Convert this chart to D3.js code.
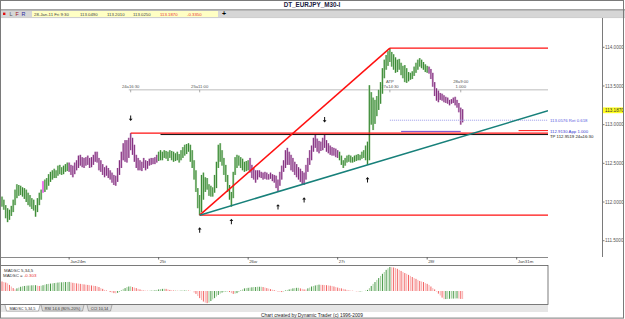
<!DOCTYPE html>
<html>
<head>
<meta charset="utf-8">
<script src="https://cdn.jsdelivr.net/npm/d3@7"></script>
<style>
  html, body { margin: 0; padding: 0; background: #fff; }
  svg text { font-family: "Liberation Sans", Arial, sans-serif; }
</style>
</head>
<body>
<svg id="chart" width="625" height="319"></svg>
<script>
'use strict';

// ---- data (M30 bars, bar index 0 = Jan24 00:00, 48 bars a day) ----
var firstBar = -36;

var barHigh = [
  112.07,112.03,111.96,111.92,111.90,111.95,112.03,112.16,112.23,112.22,
  112.21,112.19,112.18,112.16,112.12,112.09,112.05,112.03,111.96,112.05,
  112.12,112.16,112.27,112.29,112.31,112.36,112.39,112.41,112.43,112.41,
  112.47,112.48,112.45,112.47,112.49,112.51,112.51,112.48,112.47,112.51,
  112.54,112.60,112.61,112.58,112.57,112.58,112.60,112.57,112.58,112.61,
  112.65,112.65,112.57,112.54,112.49,112.45,112.47,112.44,112.41,112.38,
  112.35,112.34,112.44,112.54,112.65,112.76,112.80,112.80,112.83,112.89,
  112.83,112.74,112.61,112.57,112.54,112.52,112.57,112.54,112.53,112.56,
  112.57,112.57,112.58,112.61,112.65,112.67,112.65,112.67,112.66,112.65,
  112.67,112.66,112.65,112.63,112.65,112.62,112.67,112.71,112.74,112.75,
  112.76,112.74,112.67,112.54,112.41,112.18,112.09,112.35,112.38,112.32,
  112.31,112.23,112.21,112.19,112.35,112.52,112.74,112.76,112.67,112.57,
  112.48,112.35,112.22,112.13,112.39,112.58,112.61,112.60,112.58,112.56,
  112.52,112.53,112.54,112.57,112.48,112.44,112.41,112.41,112.41,112.39,
  112.38,112.39,112.38,112.36,112.38,112.36,112.35,112.34,112.29,112.39,
  112.47,112.54,112.67,112.70,112.65,112.61,112.57,112.52,112.49,112.45,
  112.43,112.40,112.38,112.48,112.57,112.67,112.73,112.83,112.87,112.82,
  112.79,112.78,112.83,112.87,112.80,112.76,112.73,112.71,112.70,112.69,
  112.67,112.65,112.60,112.54,112.57,112.60,112.61,112.60,112.58,112.60,
  112.61,112.62,112.61,112.65,112.67,112.73,112.78,113.51,113.42,113.35,
  113.32,113.37,113.45,113.55,113.73,113.84,113.90,113.95,113.99,113.94,
  113.91,113.87,113.84,113.85,113.80,113.76,113.77,113.73,113.68,113.67,
  113.69,113.75,113.80,113.84,113.86,113.84,113.81,113.78,113.76,113.75,
  113.72,113.67,113.55,113.47,113.44,113.41,113.40,113.38,113.36,113.35,
  113.32,113.33,113.35,113.36,113.32,113.28,113.22,113.20
];

var barLow = [
  111.94,111.90,111.79,111.74,111.77,111.82,111.87,111.96,112.05,112.08,
  112.09,112.07,112.04,112.00,111.96,111.94,111.91,111.89,111.81,111.87,
  111.96,112.03,112.12,112.13,112.16,112.21,112.26,112.29,112.31,112.31,
  112.34,112.36,112.35,112.36,112.39,112.40,112.39,112.35,112.32,112.36,
  112.41,112.44,112.47,112.45,112.44,112.47,112.48,112.44,112.45,112.48,
  112.52,112.51,112.41,112.39,112.35,112.32,112.34,112.31,112.29,112.25,
  112.22,112.21,112.26,112.35,112.44,112.54,112.52,112.51,112.57,112.67,
  112.61,112.52,112.44,112.41,112.41,112.40,112.44,112.41,112.43,112.47,
  112.48,112.49,112.49,112.51,112.53,112.54,112.54,112.57,112.56,112.53,
  112.57,112.54,112.52,112.53,112.54,112.51,112.54,112.57,112.60,112.62,
  112.65,112.52,112.44,112.29,112.13,111.92,111.83,111.87,112.03,112.13,
  112.16,112.08,112.07,112.07,112.12,112.18,112.44,112.52,112.47,112.35,
  112.26,112.13,112.03,111.94,112.05,112.35,112.44,112.47,112.44,112.41,
  112.39,112.40,112.41,112.38,112.31,112.29,112.25,112.29,112.32,112.31,
  112.29,112.30,112.29,112.29,112.30,112.27,112.25,112.18,112.13,112.21,
  112.29,112.39,112.44,112.48,112.48,112.41,112.39,112.35,112.32,112.29,
  112.26,112.23,112.22,112.29,112.39,112.48,112.54,112.65,112.70,112.65,
  112.63,112.66,112.67,112.70,112.65,112.63,112.61,112.60,112.60,112.58,
  112.57,112.54,112.48,112.44,112.47,112.51,112.52,112.51,112.51,112.52,
  112.53,112.54,112.54,112.56,112.57,112.54,112.48,112.54,113.00,112.93,
  113.01,113.11,113.19,113.27,113.40,113.60,113.71,113.76,113.81,113.75,
  113.71,113.67,113.68,113.71,113.64,113.60,113.55,113.54,113.56,113.58,
  113.59,113.63,113.67,113.71,113.75,113.73,113.71,113.68,113.67,113.66,
  113.59,113.49,113.37,113.31,113.29,113.32,113.31,113.29,113.28,113.27,
  113.25,113.27,113.28,113.25,113.22,113.16,113.00,113.03
];

// trend state per run of bars: [first bar, state]
var trendRuns = [[0, "up"], [22, "flag"], [23, "up"], [36, "dn"], [84, "up"], [133, "dn"], [181, "up"], [229, "dn"]];

// MADSC 5,34,5 oscillator, one value per bar
var madsc = [
  0.36,0.34,0.32,0.29,0.23,0.17,0.11,0.06,0.10,0.13,
  0.16,0.18,0.19,0.20,0.205,0.21,0.215,0.22,0.22,0.20,
  0.19,0.20,0.22,0.24,0.26,0.27,0.28,0.29,0.30,0.31,
  0.32,0.33,0.33,0.335,0.34,0.34,0.345,0.33,0.31,0.30,
  0.29,0.28,0.27,0.26,0.25,0.24,0.23,0.22,0.21,0.20,
  0.19,0.17,0.15,0.11,0.08,0.04,0.02,0.00,-0.04,-0.06,
  -0.08,-0.09,-0.07,-0.04,0.02,0.08,0.11,0.15,0.17,0.175,
  0.15,0.13,0.11,0.08,0.06,0.04,0.02,0.015,0.01,0.01,
  0.015,0.02,0.025,0.04,0.06,0.07,0.08,0.085,0.08,0.06,
  0.04,0.03,0.02,0.02,0.01,0.01,0.015,0.02,0.02,0.02,
  0.015,0.01,0.00,-0.06,-0.11,-0.19,-0.27,-0.34,-0.40,-0.44,
  -0.46,-0.44,-0.38,-0.32,-0.27,-0.21,-0.15,-0.10,-0.06,-0.04,
  -0.02,-0.02,-0.04,-0.08,-0.11,-0.10,-0.08,-0.04,0.02,0.06,
  0.10,0.11,0.12,0.13,0.14,0.15,0.15,0.16,0.16,0.16,
  0.15,0.13,0.11,0.09,0.07,0.05,0.03,0.01,-0.02,-0.03,
  -0.04,-0.02,0.02,0.04,0.06,0.08,0.10,0.11,0.12,0.12,
  0.10,0.08,0.06,0.055,0.10,0.13,0.17,0.19,0.21,0.23,
  0.24,0.235,0.23,0.225,0.22,0.21,0.20,0.19,0.17,0.15,
  0.13,0.11,0.10,0.08,0.06,0.04,0.02,0.015,0.01,0.00,
  -0.01,-0.02,-0.02,-0.015,0.00,0.02,0.04,0.11,0.19,0.27,
  0.34,0.42,0.49,0.57,0.65,0.72,0.80,0.86,0.91,0.90,
  0.89,0.87,0.84,0.80,0.76,0.72,0.68,0.65,0.61,0.57,
  0.53,0.49,0.46,0.42,0.38,0.36,0.34,0.30,0.27,0.23,
  0.17,0.11,0.06,-0.02,-0.10,-0.17,-0.25,-0.31,-0.305,-0.30,
  -0.295,-0.29,-0.288,-0.285,-0.28,-0.29,-0.30,-0.303
];

var dayTicks = [0, 48, 96, 144, 192, 240];
var dayLabels = ["Jan24m", "25t", "26w", "27t", "28f", "Jan31m"];
var priceTicks = [111.5, 112, 112.5, 113, 113.5, 114];
var lastPrice = 113.187;
var quote = ["28-Jan-11 Fri 9:30", "113.0490", "113.2010", "113.0250", "113.1870", "-0.3350"];

// swing points (bar number in the arrays above, price)
var swingLow = {bar: 106, price: 111.83};
var swingHigh = {bar: 208, price: 113.99};
var trendLow2 = {bar: 196, price: 112.48};
var timeLevel = 113.45;
var timeMarks = [
  {bar: 69, text: ["24a16:30"]},
  {bar: 106, text: ["25a11:00"]},
  {bar: 208, text: ["ATP", "27a14:30"]},
  {bar: 246, text: ["28a9:00", "1.000"]}
];
var upArrows = [106, 123, 148, 162, 196];
var downArrows = [69, 173];
var priceLevels = [
  {from: 85, price: 112.872, color: "#111", width: 1},
  {from: 69, price: 112.89, color: "#ff1010", width: 1.4},
  {from: 208, price: 113.0576, color: "#9a9ae8", width: 1, dash: "1,1"},
  {from: 214, to: 246, price: 112.913, color: "#7048c8", width: 1},
  {from: 277, price: 112.923, color: "#ff1010", width: 1}
];
var levelLabels = [
  {price: 113.0576, text: "113.0576 Ret 0.618", color: "#5a5ae0"},
  {price: 112.913, text: "112.9130 App 1.000", color: "#3a3ad0"},
  {price: 112.8519, text: "TP 112.9519 24a16:30", color: "#111"}
];

// ---- setup ----
var svg = d3.select("#chart");
var plotRight = 548;
var x = d3.scaleLinear().domain([-36, 240]).range([2, 516.7]);
var y = d3.scaleLinear().domain([111.5, 114]).range([240.7, 47.3]);
var ym = d3.scaleLinear().domain([-0.5, 1.0]).range([304.2, 264.6]);
function bx(k) { return x(k + firstBar); }
var lastBar = x.invert(plotRight) - firstBar;

var colors = {
  up: {dark: "#217a1c", light: "#a8d0a0"},
  dn: {dark: "#74146e", light: "#cca4cc"},
  flag: {dark: "#e818e8", light: "#f49cf4"}
};
function stateOf(k) {
  var s = "up";
  trendRuns.forEach(function (r) { if (k >= r[0]) s = r[1]; });
  return s;
}

svg.append("rect").attr("width", 625).attr("height", 319).attr("fill", "#fff");

svg.append("defs").append("clipPath").attr("id", "clipMain")
  .append("rect").attr("x", 1).attr("y", 18).attr("width", plotRight - 1).attr("height", 239);

// ---- title + toolbar ----
svg.append("text").attr("x", 312).attr("y", 7.2).attr("text-anchor", "middle")
  .style("font-size", "6.3px").style("font-weight", "bold").attr("fill", "#1a1a40")
  .text("DT_EURJPY_M30-I");
svg.append("rect").attr("x", 0).attr("y", 10).attr("width", 625).attr("height", 7.5).attr("fill", "#d6d6d6");
svg.append("line").attr("x1", 0).attr("x2", 625).attr("y1", 9.8).attr("y2", 9.8).attr("stroke", "#606060").attr("stroke-width", 0.8);
svg.append("line").attr("x1", 0).attr("x2", 625).attr("y1", 17.6).attr("y2", 17.6).attr("stroke", "#b8b8b8").attr("stroke-width", 0.6);
svg.append("rect").attr("x", 3).attr("y", 12.6).attr("width", 2.4).attr("height", 2.4).attr("fill", "#e01010");
[["L", 9.5, "#555"], ["F", 15.5, "#a01010"], ["R", 21.5, "#2a2aa0"]].forEach(function (d) {
  svg.append("text").attr("x", d[1]).attr("y", 16.2).style("font-size", "5.4px").attr("fill", d[2]).text(d[0]);
});
svg.append("rect").attr("x", 32).attr("y", 11).attr("width", 186).attr("height", 6).attr("fill", "#ffffc4");
var quoteX = [34, 80, 107, 133, 160, 187];
quote.forEach(function (q, i) {
  svg.append("text").attr("x", quoteX[i]).attr("y", 15.7).style("font-size", "4.3px")
    .attr("fill", i >= 4 ? "#e83030" : "#404040").text(q);
});
svg.append("text").attr("x", 224).attr("y", 16.4).attr("text-anchor", "middle")
  .style("font-size", "7px").style("font-weight", "bold").attr("fill", "#000").text("+");

// ---- price axis ----
svg.append("line").attr("x1", 602.5).attr("x2", 602.5).attr("y1", 18).attr("y2", 257)
  .attr("stroke", "#7a7a7a").attr("stroke-width", 1);
priceTicks.forEach(function (p) {
  svg.append("line").attr("x1", 602.5).attr("x2", 604.5).attr("y1", y(p)).attr("y2", y(p)).attr("stroke", "#7a7a7a");
  svg.append("text").attr("x", 605).attr("y", y(p) + 1.7).style("font-size", "4.6px").attr("fill", "#555")
    .text(d3.format(".4f")(p));
});
svg.append("rect").attr("x", 603).attr("y", y(lastPrice) - 2.8).attr("width", 20.5).attr("height", 5.8).attr("fill", "#ffff20");
svg.append("text").attr("x", 605).attr("y", y(lastPrice) + 1.7).style("font-size", "4.6px").attr("fill", "#333")
  .text(d3.format(".4f")(lastPrice));

// ---- time axis ----
svg.append("line").attr("x1", 0).attr("x2", plotRight).attr("y1", 257.5).attr("y2", 257.5)
  .attr("stroke", "#8a8a8a").attr("stroke-width", 1);
dayTicks.forEach(function (t, i) {
  svg.append("line").attr("x1", x(t)).attr("x2", x(t)).attr("y1", 257).attr("y2", 259.5).attr("stroke", "#666");
  svg.append("text").attr("x", x(t) + 1).attr("y", 263.3).style("font-size", "4.4px").attr("fill", "#444")
    .text(dayLabels[i]);
});

// ---- main plot ----
var plot = svg.append("g").attr("clip-path", "url(#clipMain)");

// time-level guide line and time labels
plot.append("line").attr("x1", bx(68)).attr("x2", plotRight).attr("y1", y(timeLevel)).attr("y2", y(timeLevel))
  .attr("stroke", "#b4b4b4").attr("stroke-width", 0.9);
timeMarks.forEach(function (m) {
  var tx = bx(m.bar);
  plot.append("line").attr("x1", tx).attr("x2", tx).attr("y1", y(timeLevel)).attr("y2", y(timeLevel) + 2.5)
    .attr("stroke", "#777").attr("stroke-width", 0.6);
  m.text.forEach(function (t, j) {
    plot.append("text").attr("x", tx).attr("y", y(timeLevel) - 1.5 - (m.text.length - 1 - j) * 5)
      .attr("text-anchor", "middle").style("font-size", "4.2px").attr("fill", "#555").text(t);
  });
});

// price bars
var bars = plot.append("g").selectAll("g").data(barHigh.map(function (h, k) {
  return {k: k, hi: h, lo: barLow[k], s: stateOf(k)};
})).join("g");
bars.append("rect")
  .attr("x", function (d) { return bx(d.k) - 1.1; })
  .attr("width", 2.2)
  .attr("y", function (d) { return y(d.hi); })
  .attr("height", function (d) { return Math.max(1, y(d.lo) - y(d.hi)); })
  .attr("fill", function (d) { return colors[d.s].light; })
  .attr("opacity", 0.8);
bars.append("line")
  .attr("x1", function (d) { return bx(d.k); })
  .attr("x2", function (d) { return bx(d.k); })
  .attr("y1", function (d) { return y(d.hi); })
  .attr("y2", function (d) { return y(d.lo); })
  .attr("stroke", function (d) { return colors[d.s].dark; })
  .attr("stroke-width", 0.85);

// horizontal levels
priceLevels.forEach(function (l) {
  plot.append("line").attr("x1", bx(l.from)).attr("x2", l.to !== undefined ? bx(l.to) : plotRight)
    .attr("y1", y(l.price)).attr("y2", y(l.price))
    .attr("stroke", l.color).attr("stroke-width", l.width)
    .attr("stroke-dasharray", l.dash || null);
});

// swing lines
plot.append("line").attr("x1", bx(swingLow.bar)).attr("y1", y(swingLow.price))
  .attr("x2", bx(swingHigh.bar)).attr("y2", y(swingHigh.price))
  .attr("stroke", "#ff1010").attr("stroke-width", 1.5);
plot.append("line").attr("x1", bx(swingHigh.bar)).attr("x2", plotRight)
  .attr("y1", y(swingHigh.price)).attr("y2", y(swingHigh.price))
  .attr("stroke", "#ff1010").attr("stroke-width", 1.2);
plot.append("line").attr("x1", bx(swingLow.bar)).attr("x2", plotRight)
  .attr("y1", y(swingLow.price)).attr("y2", y(swingLow.price))
  .attr("stroke", "#ff1010").attr("stroke-width", 1.2);
var slope = (trendLow2.price - swingLow.price) / (trendLow2.bar - swingLow.bar);
plot.append("line").attr("x1", bx(swingLow.bar)).attr("y1", y(swingLow.price))
  .attr("x2", plotRight).attr("y2", y(swingLow.price + slope * (lastBar - swingLow.bar)))
  .attr("stroke", "#17807a").attr("stroke-width", 1.5);

// swing arrows
function arrow(g, cx, cy, up) {
  var s = up ? 1 : -1;
  g.append("path")
    .attr("d", "M0," + (-2.8 * s) + "L1.9," + (-0.6 * s) + "L0.5," + (-0.6 * s) + "L0.5," + (2.6 * s) +
      "L-0.5," + (2.6 * s) + "L-0.5," + (-0.6 * s) + "L-1.9," + (-0.6 * s) + "Z")
    .attr("transform", "translate(" + cx + "," + cy + ")")
    .attr("fill", "#111");
}
upArrows.forEach(function (k) { arrow(plot, bx(k), y(barLow[k]) + 15, true); });
downArrows.forEach(function (k) { arrow(plot, bx(k), y(barHigh[k]) - 15, false); });

// level labels right of the bars
levelLabels.forEach(function (l) {
  svg.append("text").attr("x", 550).attr("y", y(l.price) + 1.8).style("font-size", "4.3px")
    .attr("fill", l.color).text(l.text);
});

// ---- MADSC panel ----
svg.append("rect").attr("x", 0.5).attr("y", 265.5).attr("width", 547.5).attr("height", 39)
  .attr("fill", "#fff").attr("stroke", "#5a5a5a").attr("stroke-width", 0.8);
svg.append("text").attr("x", 4).attr("y", 271.5).style("font-size", "4.4px").attr("fill", "#333").text("MADSC 5,34,5");
var mt = svg.append("text").attr("x", 3).attr("y", 276.8).style("font-size", "4.4px").attr("fill", "#333");
mt.append("tspan").text("MADSC = ");
mt.append("tspan").attr("fill", "#e83030").text(madsc[madsc.length - 1].toFixed(3));

svg.append("g").selectAll("line").data(madsc).join("line")
  .attr("x1", function (d, k) { return bx(k); })
  .attr("x2", function (d, k) { return bx(k); })
  .attr("y1", ym(0))
  .attr("y2", function (d) { return ym(d); })
  .attr("stroke", function (d, k) {
    var rising = k === 0 ? false : d >= madsc[k - 1];
    var dark = k % 2 === 0;
    if (rising) return dark ? "#2e8a2e" : "#9ccc94";
    return dark ? "#f05050" : "#f7a8a8";
  })
  .attr("stroke-width", 0.9);

// indicator tabs
svg.append("rect").attr("x", 1).attr("y", 305).attr("width", 547).attr("height", 7).attr("fill", "#e6e6e6");
var tabs = [["MADSC 5,34,5", 5, 35, "#fff"], ["RSI 14,6 (80%-20%)", 41, 43, "#d8d8d8"], ["CCI 10,14", 87, 25, "#d8d8d8"]];
tabs.forEach(function (t) {
  svg.append("path")
    .attr("d", "M" + t[1] + ",305L" + (t[1] + 1.5) + ",311L" + (t[1] + t[2] - 1.5) + ",311L" + (t[1] + t[2]) + ",305")
    .attr("fill", t[3]).attr("stroke", "#707070").attr("stroke-width", 0.5);
  svg.append("text").attr("x", t[1] + t[2] / 2).attr("y", 309.6).attr("text-anchor", "middle")
    .style("font-size", "3.9px").attr("fill", "#333").text(t[0]);
});

// footer + frame
svg.append("text").attr("x", 312).attr("y", 316.6).attr("text-anchor", "middle")
  .style("font-size", "4.8px").attr("fill", "#222").text("Chart created by Dynamic Trader  (c) 1996-2009");
svg.append("rect").attr("x", 0.5).attr("y", 0.5).attr("width", 623).attr("height", 317.6)
  .attr("fill", "none").attr("stroke", "#7a7a7a").attr("stroke-width", 1);
</script>
</body>
</html>
